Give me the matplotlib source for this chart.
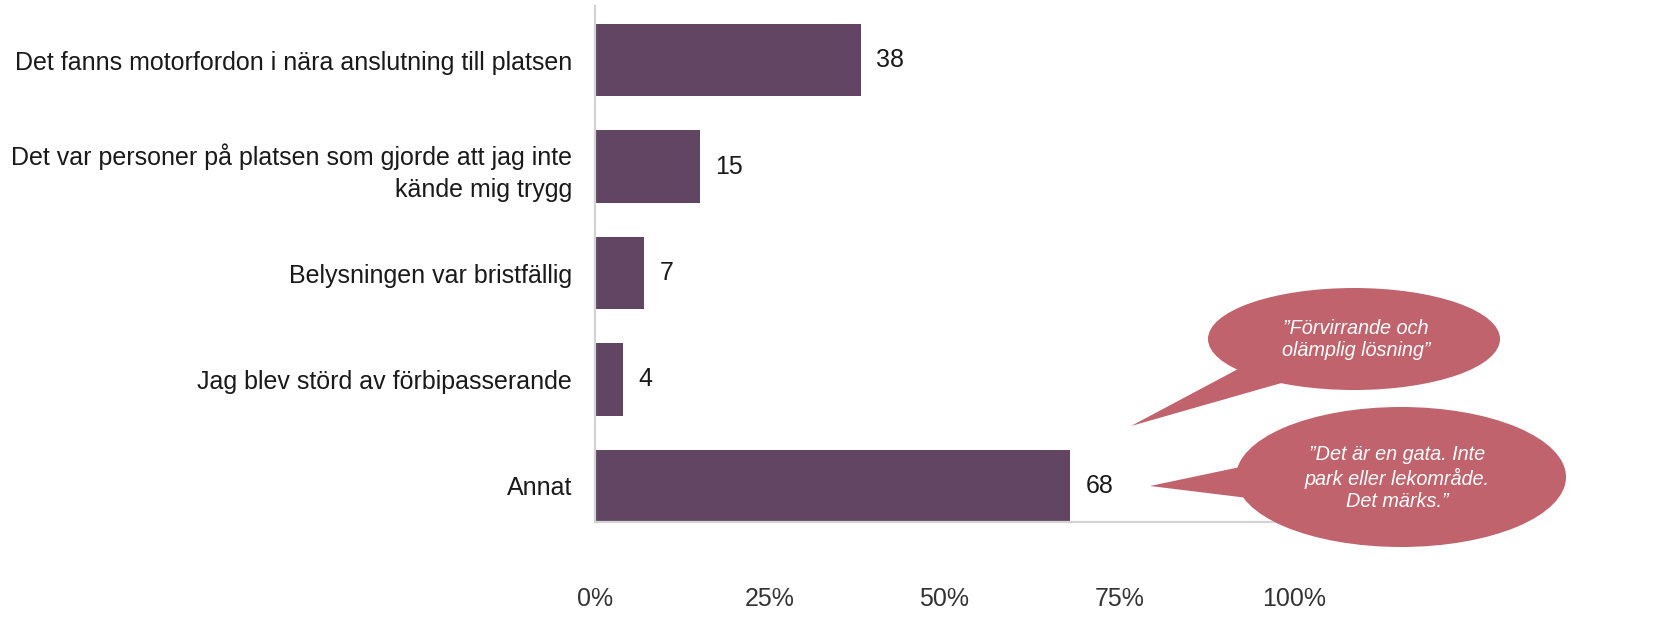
import matplotlib
matplotlib.use("Agg")
import matplotlib.pyplot as plt
from matplotlib.patches import Ellipse, Polygon

plt.rcParams['font.family'] = ['Liberation Sans', 'DejaVu Sans']

categories = [
    "Det fanns motorfordon i nära anslutning till platsen",
    "Det var personer på platsen som gjorde att jag inte\nkände mig trygg",
    "Belysningen var bristfällig",
    "Jag blev störd av förbipasserande",
    "Annat",
]
values = [38, 15, 7, 4, 68]
xticks = [0, 25, 50, 75, 100]
xtick_labels = ["0%", "25%", "50%", "75%", "100%"]
quote1 = "\u201dFörvirrande och\nolämplig lösning\u201d"
quote2 = "\u201dDet är en gata. Inte\npark eller lekområde.\nDet märks.\u201d"

bar_color = "#614563"
bubble_color = "#C0636C"
spine_color = "#D3D3D3"

W, H = 1668, 620
fig = plt.figure(figsize=(W / 100, H / 100), dpi=100)
ax = fig.add_axes([595 / W, 1 - 522 / H, (1294 - 595) / W, (522 - 6) / H])

n = len(categories)
ypos = list(range(n - 1, -1, -1))
ax.barh(ypos, values, height=0.68, color=bar_color, zorder=2)
for y, v in zip(ypos, values):
    ax.text(v + 2.2, y, str(v), va="center", ha="left", fontsize=18, color="#1a1a1a")

ax.set_xlim(0, 100)
ax.set_ylim(-0.34, n - 1 + 0.51)
ax.set_yticks(ypos)
ax.set_yticklabels(categories, fontsize=18, color="#1a1a1a", linespacing=1.4)
ax.set_xticks(xticks)
ax.set_xticklabels(xtick_labels, fontsize=18, color="#333333")
ax.tick_params(axis="both", length=0)
ax.tick_params(axis="y", pad=16.5)
ax.tick_params(axis="x", pad=47)
for s in ["top", "right"]:
    ax.spines[s].set_visible(False)
for s in ["left", "bottom"]:
    ax.spines[s].set_color(spine_color)
    ax.spines[s].set_linewidth(1.6)

# speech bubbles in figure pixel coordinates
ov = fig.add_axes([0, 0, 1, 1], facecolor="none")
ov.set_xlim(0, W)
ov.set_ylim(H, 0)
ov.axis("off")

ov.add_patch(Ellipse((1354, 339), 292, 102, color=bubble_color, lw=0))
ov.add_patch(Polygon([(1240, 368), (1131, 426), (1285, 382)], closed=True, color=bubble_color, lw=0))
ov.text(1356, 340, quote1, ha="center", va="center", color="white", fontsize=14.3,
        style="italic", linespacing=1.2)

ov.add_patch(Ellipse((1401, 477), 330, 140, color=bubble_color, lw=0))
ov.add_patch(Polygon([(1245, 466), (1150, 486), (1248, 498)], closed=True, color=bubble_color, lw=0))
ov.text(1397, 478, quote2, ha="center", va="center", color="white", fontsize=14.3,
        style="italic", linespacing=1.2)

fig.savefig("out.png", dpi=100)
